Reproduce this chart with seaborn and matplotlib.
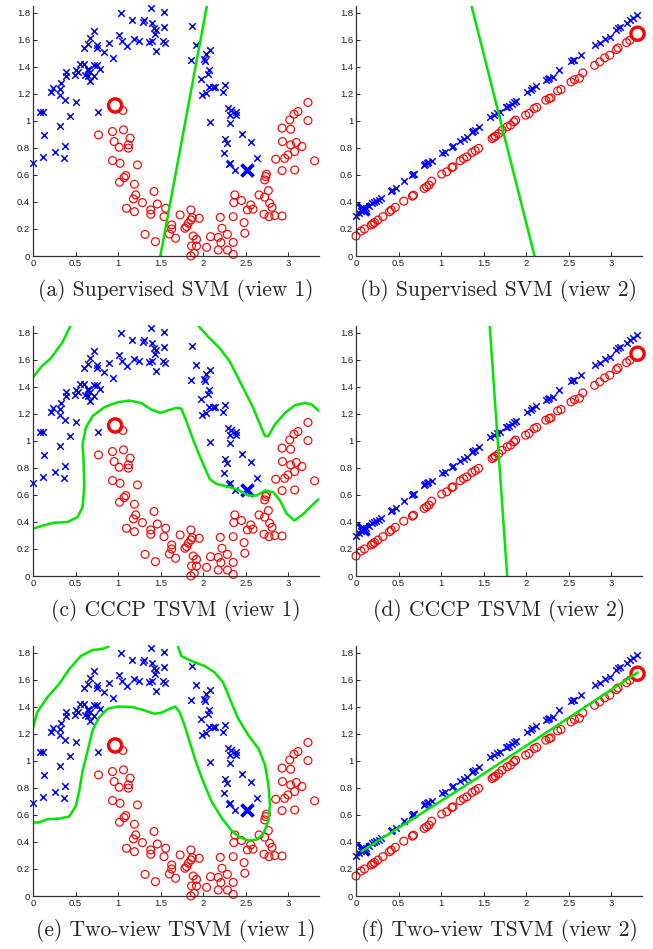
import matplotlib
matplotlib.use("Agg")
import matplotlib.pyplot as plt
import seaborn as sns

# view 1: two moons (blue = class +1, red = class -1)
blue1_x = [1.031, 1.16, 1.289, 1.305, 1.383, 1.398, 1.422, 1.441, 1.434, 1.539, 1.543,
           1.016, 1.043, 1.109, 1.188, 1.25, 1.363, 1.395, 1.445, 1.523, 1.55, 0.898,
           0.945, 0.836, 0.75, 0.75, 0.719, 0.664, 0.641, 0.594, 0.547, 0.602, 0.641,
           0.652, 0.664, 0.645, 0.719, 0.75, 0.789, 0.711, 0.664, 0.613, 0.527, 0.508,
           0.496, 0.391, 0.391, 0.328, 0.23, 0.215, 0.32, 0.313, 0.371, 0.504, 0.078,
           0.113, 0.43, 0.762, 0.313, 0.125, 0.004, 0.117, 0.262, 0.375, 0.363, 1.863,
           1.914, 1.855, 2.031, 2.085, 2.011, 2.02, 2.066, 2.058, 1.972, 2.066, 2.117,
           2.136, 2.254, 2.234, 1.984, 2.027, 2.293, 2.325, 2.39, 2.383, 2.313, 2.078,
           2.313, 2.254, 2.285, 2.461, 2.566, 2.246, 2.313, 2.371, 2.636, 2.30]
blue1_y = [1.798, 1.743, 1.728, 1.748, 1.835, 1.723, 1.689, 1.669, 1.64, 1.802, 1.694,
           1.635, 1.588, 1.556, 1.605, 1.588, 1.58, 1.588, 1.519, 1.588, 1.575, 1.575,
           1.464, 1.509, 1.563, 1.538, 1.667, 1.612, 1.568, 1.538, 1.42, 1.42, 1.383,
           1.373, 1.358, 1.333, 1.41, 1.41, 1.385, 1.333, 1.296, 1.341, 1.358, 1.378,
           1.341, 1.358, 1.333, 1.279, 1.242, 1.217, 1.235, 1.193, 1.156, 1.143, 1.064,
           1.069, 1.037, 1.062, 0.963, 0.896, 0.686, 0.736, 0.768, 0.817, 0.723, 1.704,
           1.563, 1.452, 1.494, 1.521, 1.457, 1.44, 1.378, 1.348, 1.311, 1.247, 1.247,
           1.25, 1.267, 1.217, 1.193, 1.205, 1.094, 1.081, 1.064, 1.044, 1.044, 0.988,
           0.983, 0.867, 0.835, 0.901, 0.842, 0.765, 0.691, 0.637, 0.723, 0.68]
red1_x = [1.055, 0.77, 0.934, 1.063, 1.141, 0.953, 1.012, 1.121, 1.121, 0.934, 1.023,
          1.227, 1.09, 1.07, 1.016, 1.191, 1.207, 1.18, 1.422, 1.285, 1.098, 1.191, 1.383,
          1.383, 1.461, 1.559, 1.539, 1.316, 1.438, 1.629, 1.629, 1.602, 1.675, 3.23,
          3.113, 3.066, 3.016, 3.23, 2.926, 3.027, 2.93, 3.027, 3.094, 3.16, 3.074, 2.996,
          2.957, 2.851, 3.308, 3.074, 2.926, 2.742, 2.734, 2.722, 2.765, 2.656, 2.722,
          2.371, 2.449, 2.359, 2.558, 2.519, 2.585, 2.781, 2.808, 2.714, 2.773, 2.84,
          2.926, 2.48, 2.488, 2.352, 2.2, 2.22, 2.283, 2.176, 2.207, 2.176, 2.285, 2.352,
          2.352, 2.086, 2.039, 1.855, 1.871, 1.855, 1.824, 1.785, 1.805, 1.953, 1.728,
          1.882, 1.921, 1.863, 1.921, 1.894, 1.855]
red1_y = [1.077, 0.896, 0.921, 0.933, 0.872, 0.847, 0.805, 0.822, 0.798, 0.706, 0.686,
          0.674, 0.595, 0.58, 0.546, 0.531, 0.452, 0.422, 0.477, 0.395, 0.353, 0.328, 0.341,
          0.309, 0.385, 0.353, 0.291, 0.16, 0.106, 0.23, 0.2, 0.163, 0.131, 1.136,
          1.069, 1.049, 1.007, 1.002, 0.946, 0.938, 0.847, 0.822, 0.84, 0.81, 0.773, 0.748,
          0.723, 0.716, 0.704, 0.637, 0.632, 0.605, 0.588, 0.563, 0.484, 0.452, 0.435,
          0.452, 0.41, 0.395, 0.378, 0.341, 0.346, 0.39, 0.36, 0.309, 0.291, 0.299,
          0.296, 0.247, 0.168, 0.291, 0.286, 0.205, 0.16, 0.138, 0.099, 0.044, 0.044, 0.101,
          0.012, 0.143, 0.064, 0.341, 0.284, 0.267, 0.242, 0.205, 0.217, 0.279, 0.304,
          0.148, 0.123, 0.074, 0.074, 0.02, 0.0]
lab1_blue = (2.515, 0.637)
lab1_red = (0.965, 1.114)

# view 2: points lie on two parallel lines
blue2_x = [0.0, 0.032, 0.059, 0.075, 0.118, 0.158, 0.19, 0.217, 0.23, 0.268, 0.296,
           0.407, 0.425, 0.466, 0.561, 0.659, 0.671, 0.68, 0.801, 0.815, 0.829, 0.849,
           0.888, 1.007, 1.046, 1.125, 1.14, 1.224, 1.263, 1.303, 1.362, 1.38, 1.401,
           1.441, 1.58, 1.618, 1.66, 1.697, 1.757, 1.776, 1.796, 1.835, 1.855, 1.875,
           2.013, 2.053, 2.072, 2.112, 2.23, 2.25, 2.27, 2.309, 2.38, 2.526, 2.546, 2.566,
           2.645, 2.803, 2.863, 2.921, 2.981, 3.059, 3.079, 3.099, 3.178, 3.217, 3.256,
           3.296]
blue2_y = [0.298, 0.315, 0.333, 0.34, 0.357, 0.372, 0.39, 0.401, 0.405, 0.414, 0.426,
           0.483, 0.49, 0.505, 0.554, 0.599, 0.606, 0.61, 0.672, 0.678, 0.685, 0.697,
           0.704, 0.759, 0.771, 0.808, 0.815, 0.852, 0.869, 0.882, 0.919, 0.925, 0.931,
           0.951, 1.03, 1.042, 1.055, 1.067, 1.099, 1.103, 1.108, 1.128, 1.136, 1.145,
           1.214, 1.232, 1.24, 1.256, 1.3, 1.31, 1.32, 1.325, 1.374, 1.441, 1.447, 1.453,
           1.49, 1.559, 1.576, 1.603, 1.621, 1.675, 1.685, 1.695, 1.727, 1.744, 1.762,
           1.781]
red2_x = [0.0, 0.059, 0.099, 0.178, 0.197, 0.217, 0.257, 0.316, 0.395, 0.415, 0.462,
          0.561, 0.663, 0.675, 0.801, 0.829, 0.857, 0.888, 1.007, 1.066, 1.125, 1.14,
          1.224, 1.263, 1.303, 1.362, 1.401, 1.441, 1.599, 1.618, 1.638, 1.678, 1.717,
          1.776, 1.816, 1.855, 1.875, 1.993, 2.033, 2.092, 2.124, 2.23, 2.27, 2.29, 2.369,
          2.408, 2.526, 2.566, 2.625, 2.664, 2.803, 2.863, 2.921, 2.981, 3.059, 3.079,
          3.178, 3.217]
red2_y = [0.148, 0.185, 0.2, 0.229, 0.238, 0.248, 0.266, 0.291, 0.328, 0.34, 0.36,
          0.406, 0.443, 0.45, 0.5, 0.512, 0.525, 0.554, 0.606, 0.623, 0.655, 0.66,
          0.704, 0.72, 0.734, 0.766, 0.78, 0.796, 0.869, 0.878, 0.887, 0.906, 0.931,
          0.956, 0.968, 0.993, 1.005, 1.042, 1.055, 1.091, 1.1, 1.153, 1.165, 1.17, 1.222,
          1.232, 1.288, 1.305, 1.315, 1.355, 1.411, 1.436, 1.466, 1.485, 1.527, 1.54,
          1.579, 1.596]
lab2_blue = (0.087, 0.345)
lab2_red = (3.308, 1.645)

# decision boundaries
bnd_a = ([1.496, 2.045], [0.0, 1.86])
bnd_b = ([1.354, 2.098], [1.86, 0.0])
bnd_d = ([1.57, 1.776], [1.86, 0.0])
bnd_f = ([0.064, 1.38, 3.31], [0.33, 0.855, 1.655])
bnd_c = [
    ([0.0, 0.1, 0.208, 0.346, 0.436, 0.45],
     [1.47, 1.55, 1.611, 1.729, 1.844, 1.87]),
    ([0.0, 0.13, 0.248, 0.405, 0.523, 0.582, 0.602, 0.594, 0.582, 0.621, 0.7, 0.838,
      0.995, 1.133, 1.27, 1.388, 1.498, 1.585, 1.683, 1.742, 1.801, 1.88, 1.958, 2.025,
      2.076, 2.155, 2.293, 2.411, 2.529, 2.627, 2.725, 2.823, 2.902, 2.981, 3.071, 3.177,
      3.276, 3.36],
     [0.35, 0.375, 0.394, 0.399, 0.436, 0.509, 0.656, 0.852, 0.975, 1.097, 1.183, 1.249,
      1.286, 1.298, 1.281, 1.232, 1.207, 1.225, 1.244, 1.239, 1.146, 1.011, 0.889, 0.791,
      0.718, 0.681, 0.661, 0.637, 0.595, 0.595, 0.632, 0.62, 0.558, 0.46, 0.411, 0.46,
      0.522, 0.57]),
    ([1.93, 2.057, 2.194, 2.312, 2.391, 2.489, 2.588, 2.666, 2.725, 2.765, 2.843, 2.961,
      3.079, 3.197, 3.276, 3.36],
     [1.86, 1.771, 1.685, 1.587, 1.489, 1.367, 1.244, 1.122, 1.036, 1.036, 1.122, 1.207,
      1.264, 1.281, 1.269, 1.22]),
]
bnd_e = [
    ([0.0, 0.051, 0.169, 0.307, 0.425, 0.562, 0.7, 0.818, 0.885, 0.9],
     [1.244, 1.361, 1.471, 1.568, 1.678, 1.776, 1.82, 1.829, 1.844, 1.87]),
    ([1.70, 1.703, 1.742, 1.86, 2.017, 2.135, 2.234, 2.312, 2.411, 2.529, 2.647, 2.725,
      2.765, 2.784, 2.765, 2.706, 2.627, 2.529, 2.43, 2.332, 2.214, 2.096, 1.998, 1.919,
      1.84, 1.781, 1.722, 1.671, 1.604, 1.506, 1.427, 1.309, 1.172, 0.995, 0.877, 0.779,
      0.7, 0.649, 0.582, 0.543, 0.503, 0.425, 0.307, 0.169, 0.071, 0.0],
     [1.87, 1.844, 1.776, 1.739, 1.702, 1.654, 1.58, 1.459, 1.312, 1.19, 1.093, 0.971,
      0.824, 0.678, 0.556, 0.459, 0.417, 0.41, 0.434, 0.483, 0.58, 0.702, 0.849, 0.983,
      1.141, 1.263, 1.361, 1.402, 1.385, 1.356, 1.349, 1.373, 1.398, 1.402, 1.385, 1.324,
      1.227, 1.093, 0.922, 0.776, 0.666, 0.588, 0.573, 0.568, 0.544, 0.544]),
]

captions = ["(a) Supervised SVM (view 1)", "(b) Supervised SVM (view 2)",
            "(c) CCCP TSVM (view 1)", "(d) CCCP TSVM (view 2)",
            "(e) Two-view TSVM (view 1)", "(f) Two-view TSVM (view 2)"]
xticks = [0, 0.5, 1, 1.5, 2, 2.5, 3]
xtick_labels = ["0", "0.5", "1", "1.5", "2", "2.5", "3"]
yticks = [0, 0.2, 0.4, 0.6, 0.8, 1.0, 1.2, 1.4, 1.6, 1.8]
ytick_labels = ["0", "0.2", "0.4", "0.6", "0.8", "1", "1.2", "1.4", "1.6", "1.8"]

sns.set_style("ticks")
plt.rcParams["font.family"] = ["Liberation Sans", "DejaVu Sans"]

BLUE = "#0000ff"
RED = "#ff0000"
GREEN = "#00e600"

W, H = 653, 949
fig = plt.figure(figsize=(W / 100, H / 100), dpi=100)

col_left = [33, 356]
col_width = 286
row_bottom = [256, 576, 896]
ax_h = 250


def draw_points(ax, bx, by, rx, ry, lab_b, lab_r):
    sns.scatterplot(x=bx, y=by, ax=ax, marker="x", color=BLUE, s=22, linewidth=1.1,
                    clip_on=False)
    sns.scatterplot(x=rx, y=ry, ax=ax, marker="o", facecolor="none", edgecolor=RED,
                    s=32, linewidth=0.85, clip_on=False)
    sns.scatterplot(x=[lab_b[0]], y=[lab_b[1]], ax=ax, marker="x", color=BLUE, s=75,
                    linewidth=2.7, clip_on=False)
    sns.scatterplot(x=[lab_r[0]], y=[lab_r[1]], ax=ax, marker="o", facecolor="none",
                    edgecolor=RED, s=90, linewidth=2.4, clip_on=False)


def draw_line(ax, xs, ys):
    sns.lineplot(x=xs, y=ys, ax=ax, sort=False, estimator=None, color=GREEN, lw=1.8)


axes = []
for r in range(3):
    for c in range(2):
        left = col_left[c] / W
        bottom = 1 - row_bottom[r] / H
        ax = fig.add_axes([left, bottom, col_width / W, ax_h / H])
        axes.append(ax)

for i, ax in enumerate(axes):
    view1 = i % 2 == 0
    if view1:
        draw_points(ax, blue1_x, blue1_y, red1_x, red1_y, lab1_blue, lab1_red)
    else:
        draw_points(ax, blue2_x, blue2_y, red2_x, red2_y, lab2_blue, lab2_red)

draw_line(axes[0], *bnd_a)
draw_line(axes[1], *bnd_b)
for seg in bnd_c:
    draw_line(axes[2], *seg)
draw_line(axes[3], *bnd_d)
for seg in bnd_e:
    draw_line(axes[4], *seg)
draw_line(axes[5], *bnd_f)

for i, ax in enumerate(axes):
    ax.set_xlim(0, 3.36)
    ax.set_ylim(0, 1.85)
    ax.set_xticks(xticks)
    ax.set_xticklabels(xtick_labels)
    ax.set_yticks(yticks)
    ax.set_yticklabels(ytick_labels)
    ax.tick_params(direction="in", length=3, width=0.7, labelsize=6.8, pad=2,
                   colors="#222222")
    sns.despine(ax=ax)
    for s in ["left", "bottom"]:
        ax.spines[s].set_linewidth(0.9)
        ax.spines[s].set_color("#333333")
    ax.set_xlabel("")
    ax.set_ylabel("")
    r, c = divmod(i, 2)
    cx = (col_left[c] + col_width / 2) / W
    cy = 1 - (row_bottom[r] + 35) / H
    fig.text(cx, cy, captions[i], ha="center", va="center", fontsize=15.5,
             family="cmr10")

fig.savefig("out.png", dpi=100)
